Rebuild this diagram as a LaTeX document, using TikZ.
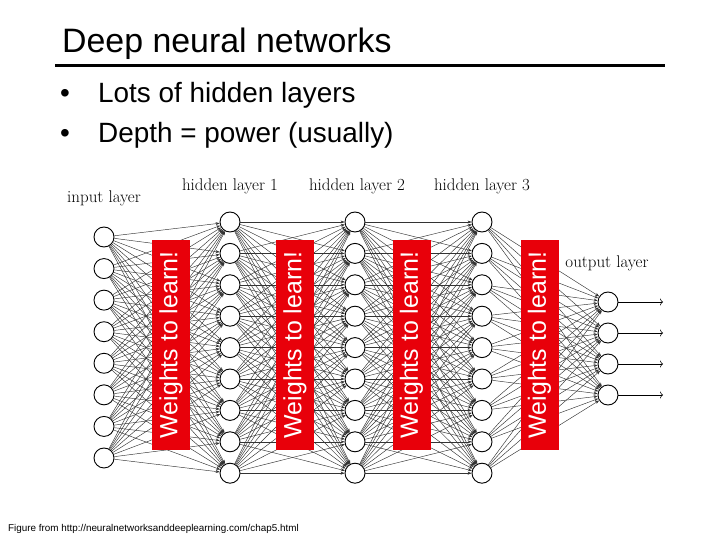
\documentclass[tikz,border=0pt]{standalone}
\usepackage{fontspec}
\newfontfamily\arial{Liberation Sans}
\usetikzlibrary{arrows.meta}
\definecolor{boxred}{RGB}{232,0,10}
\begin{document}
\begin{tikzpicture}[x=1bp,y=-1bp,
  neuron/.style={circle,draw=black,fill=white,line width=0.9bp,minimum size=20bp,inner sep=0pt},
  wire/.style={draw=black!80,line width=0.45bp,-{Stealth[length=4bp,width=3bp]}},
  outwire/.style={draw=black,line width=0.6bp,-{To[length=3bp,width=7bp]}},
  layerlabel/.style={font=\fontsize{17}{20}\selectfont,inner sep=0pt},
  redbox/.style={fill=boxred,draw=none,minimum width=38bp,minimum height=210bp,inner sep=0pt},
  redtext/.style={text=white,rotate=90,font=\arial\fontsize{25}{28}\selectfont,inner sep=0pt}]
\useasboundingbox (0,0) rectangle (720,540);
% title
\node[anchor=base west,inner sep=0pt,font=\arial\fontsize{34}{38}\selectfont] (title) at (62,53) {Deep neural networks};
\draw[line width=3bp] (55,66) -- (665,66);
% bullets
\node[anchor=base,inner sep=0pt,font=\arial\fontsize{28}{30}\selectfont] (b1dot) at (65,103) {•};
\node[anchor=base west,inner sep=0pt,font=\arial\fontsize{28}{30}\selectfont] (b1txt) at (98,103) {Lots of hidden layers};
\node[anchor=base,inner sep=0pt,font=\arial\fontsize{28}{30}\selectfont] (b2dot) at (65,143) {•};
\node[anchor=base west,inner sep=0pt,font=\arial\fontsize{28}{30}\selectfont] (b2txt) at (98,143) {Depth = power (usually)};
% layer labels
\node[layerlabel] (lin) at (104,198) {input layer};
\node[layerlabel] (lh1) at (230,186) {hidden layer 1};
\node[layerlabel] (lh2) at (357,186) {hidden layer 2};
\node[layerlabel] (lh3) at (482,186) {hidden layer 3};
\node[layerlabel] (lout) at (607,263) {output layer};
% neurons
\foreach \k in {1,...,8} \node[neuron] (i\k) at (104,{237+(\k-1)*31.57}) {};
\foreach \k in {1,...,9} {
  \node[neuron] (a\k) at (230,{222+(\k-1)*31.4}) {};
  \node[neuron] (b\k) at (355,{222+(\k-1)*31.4}) {};
  \node[neuron] (c\k) at (482,{222+(\k-1)*31.4}) {};
}
\foreach \k in {1,...,4} {
  \node[neuron] (o\k) at (608,{302+(\k-1)*31}) {};
  \coordinate (e\k) at (663,{302+(\k-1)*31});
}
% connections
\foreach \s in {1,...,8} \foreach \t in {1,...,9} \draw[wire] (i\s) -- (a\t);
\foreach \s in {1,...,9} \foreach \t in {1,...,9} {
  \draw[wire] (a\s) -- (b\t);
  \draw[wire] (b\s) -- (c\t);
}
\foreach \s in {1,...,9} \foreach \t in {1,...,4} \draw[wire] (c\s) -- (o\t);
\foreach \k in {1,...,4} \draw[outwire] (o\k) -- (e\k);
% red boxes
\foreach \n/\x in {r1/171,r2/295,r3/411.5,r4/539.5} {
  \node[redbox] (\n) at (\x,345) {};
  \node[redtext] at (\n) {Weights to learn!};
}
% footnote
\node[anchor=base west,inner sep=0pt,font=\arial\fontsize{9.9}{11}\selectfont] (foot) at (8,531) {Figure from http://neuralnetworksanddeeplearning.com/chap5.html};
\end{tikzpicture}
\end{document}
